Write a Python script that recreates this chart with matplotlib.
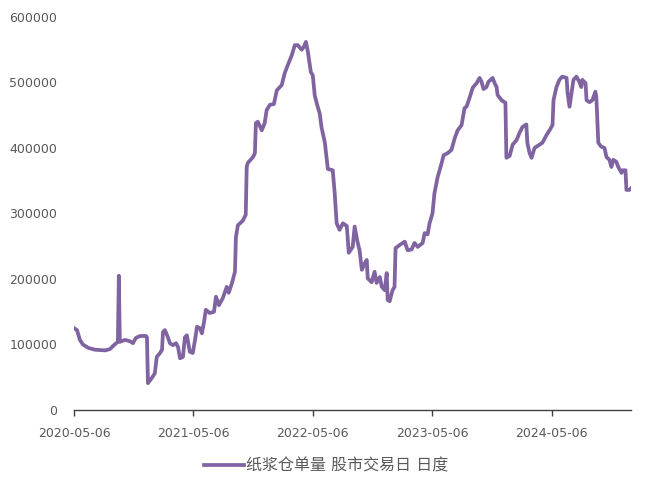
import numpy as np
import pandas as pd
import matplotlib
matplotlib.use("Agg")
import matplotlib.pyplot as plt
import matplotlib.dates as mdates

plt.rcParams['font.family'] = ['DejaVu Sans', 'Noto Sans CJK SC']

# 纸浆仓单量
dates = [
    "2020-05-06", "2020-05-15", "2020-05-24", "2020-06-02", "2020-06-18", "2020-07-09",
    "2020-08-09", "2020-08-24", "2020-09-05", "2020-09-17", "2020-09-20", "2020-09-23",
    "2020-10-09", "2020-10-24", "2020-11-02", "2020-11-11", "2020-11-24", "2020-12-12",
    "2020-12-15", "2020-12-18", "2020-12-30", "2021-01-08", "2021-01-14", "2021-01-24",
    "2021-01-30", "2021-02-02", "2021-02-08", "2021-02-17", "2021-02-23", "2021-03-04",
    "2021-03-14", "2021-03-20", "2021-03-26", "2021-04-04", "2021-04-10", "2021-04-16",
    "2021-04-25", "2021-05-04", "2021-05-11", "2021-05-17", "2021-05-26", "2021-06-01",
    "2021-06-07", "2021-06-13", "2021-06-25", "2021-07-08", "2021-07-14", "2021-07-23",
    "2021-08-04", "2021-08-16", "2021-08-22", "2021-09-01", "2021-09-10", "2021-09-13",
    "2021-09-19", "2021-10-04", "2021-10-13", "2021-10-16", "2021-10-19", "2021-11-04",
    "2021-11-10", "2021-11-13", "2021-11-19", "2021-12-01", "2021-12-10", "2021-12-16",
    "2021-12-26", "2022-01-07", "2022-01-16", "2022-01-31", "2022-02-09", "2022-02-19",
    "2022-03-03", "2022-03-12", "2022-03-21", "2022-04-02", "2022-04-08", "2022-04-15",
    "2022-04-21", "2022-04-30", "2022-05-06", "2022-05-12", "2022-05-21", "2022-05-27",
    "2022-06-02", "2022-06-12", "2022-06-21", "2022-07-06", "2022-07-12", "2022-07-18",
    "2022-07-27", "2022-08-06", "2022-08-18", "2022-08-24", "2022-09-05", "2022-09-11",
    "2022-09-20", "2022-09-26", "2022-10-03", "2022-10-12", "2022-10-18", "2022-10-21",
    "2022-11-02", "2022-11-11", "2022-11-17", "2022-11-27", "2022-12-03", "2022-12-12",
    "2022-12-18", "2022-12-21", "2022-12-27", "2023-01-05", "2023-01-11", "2023-01-14",
    "2023-01-27", "2023-02-11", "2023-02-20", "2023-03-04", "2023-03-13", "2023-03-23",
    "2023-04-07", "2023-04-13", "2023-04-22", "2023-04-28", "2023-05-07", "2023-05-13",
    "2023-05-23", "2023-06-04", "2023-06-10", "2023-06-22", "2023-07-04", "2023-07-14",
    "2023-07-23", "2023-08-04", "2023-08-13", "2023-08-19", "2023-08-28", "2023-09-07",
    "2023-09-19", "2023-09-28", "2023-10-04", "2023-10-10", "2023-10-19", "2023-10-25",
    "2023-11-07", "2023-11-13", "2023-11-19", "2023-11-22", "2023-12-04", "2023-12-16",
    "2023-12-19", "2023-12-29", "2024-01-07", "2024-01-19", "2024-01-28", "2024-02-06",
    "2024-02-18", "2024-02-21", "2024-02-28", "2024-03-05", "2024-03-14", "2024-03-29",
    "2024-04-07", "2024-04-20", "2024-04-29", "2024-05-08", "2024-05-11", "2024-05-20",
    "2024-05-29", "2024-06-07", "2024-06-20", "2024-06-23", "2024-06-29", "2024-07-05",
    "2024-07-11", "2024-07-20", "2024-07-29", "2024-08-04", "2024-08-07", "2024-08-17",
    "2024-08-20", "2024-08-29", "2024-09-07", "2024-09-16", "2024-09-19", "2024-09-25",
    "2024-10-04", "2024-10-14", "2024-10-20", "2024-10-29", "2024-11-04", "2024-11-10",
    "2024-11-19", "2024-11-25", "2024-12-05", "2024-12-08", "2024-12-17", "2024-12-20",
    "2024-12-29", "2025-01-04",
]
values = [
    125000, 122000, 107000, 100000, 95000, 92000,
    91000, 93000, 99000, 104000, 205000, 104000,
    107000, 105000, 102000, 110000, 113000, 113000,
    111000, 41000, 49000, 56000, 81000, 87000,
    92000, 119000, 122000, 111000, 102000, 99000,
    102000, 96000, 79000, 81000, 111000, 114000,
    89000, 87000, 107000, 127000, 125000, 117000,
    133000, 153000, 148000, 150000, 173000, 160000,
    171000, 188000, 179000, 194000, 211000, 264000,
    282000, 289000, 298000, 371000, 377000, 386000,
    392000, 438000, 440000, 427000, 438000, 458000,
    466000, 467000, 488000, 496000, 514000, 527000,
    542000, 557000, 557000, 550000, 554000, 562000,
    547000, 516000, 511000, 480000, 463000, 453000,
    431000, 408000, 368000, 366000, 331000, 285000,
    275000, 285000, 281000, 240000, 249000, 280000,
    256000, 244000, 214000, 224000, 229000, 201000,
    195000, 211000, 194000, 203000, 188000, 183000,
    209000, 168000, 166000, 183000, 188000, 247000,
    252000, 257000, 244000, 245000, 255000, 249000,
    255000, 270000, 268000, 285000, 300000, 331000,
    356000, 377000, 389000, 392000, 397000, 415000,
    427000, 435000, 461000, 463000, 476000, 492000,
    499000, 507000, 501000, 490000, 493000, 501000,
    507000, 499000, 493000, 481000, 473000, 469000,
    385000, 388000, 405000, 412000, 423000, 432000,
    436000, 408000, 392000, 385000, 400000, 405000,
    408000, 420000, 427000, 435000, 473000, 493000,
    504000, 509000, 507000, 484000, 463000, 484000,
    504000, 509000, 501000, 493000, 504000, 499000,
    473000, 470000, 473000, 486000, 478000, 408000,
    402000, 400000, 386000, 382000, 371000, 382000,
    379000, 371000, 362000, 366000, 366000, 336000,
    336000, 339000,
]
tick_dates = ["2020-05-06", "2021-05-06", "2022-05-06", "2023-05-06", "2024-05-06"]
y_ticks = [0, 100000, 200000, 300000, 400000, 500000, 600000]
label = "纸浆仓单量 股市交易日 日度"

x = pd.to_datetime(dates)

fig = plt.figure(figsize=(6.46, 4.91), dpi=100)
ax = fig.add_axes([0.1146, 0.165, 0.8622, 0.8004])
ax.plot(x, values, color="#8064A2", lw=2.7, label=label, solid_joinstyle="round")

ax.set_ylim(0, 600000)
ax.set_yticks(y_ticks)
ax.set_yticklabels([str(v) for v in y_ticks])
ax.set_xlim(pd.Timestamp("2020-05-06"), pd.Timestamp("2025-01-03"))
ax.set_xticks(pd.to_datetime(tick_dates))
ax.xaxis.set_major_formatter(mdates.DateFormatter("%Y-%m-%d"))

for s in ["top", "right", "left"]:
    ax.spines[s].set_visible(False)
ax.spines["bottom"].set_color("#404040")
ax.spines["bottom"].set_linewidth(1.0)
ax.tick_params(axis="y", length=0, pad=12, labelsize=9, labelcolor="#595959")
ax.tick_params(axis="x", length=4, width=1, color="#404040", pad=8,
               labelsize=9, labelcolor="#595959")

fig.legend(loc="center", bbox_to_anchor=(0.505, 0.051), frameon=False,
           handlelength=2.5, handletextpad=0.15, fontsize=11.5, labelcolor="#595959")

fig.savefig("out.png", dpi=100)
